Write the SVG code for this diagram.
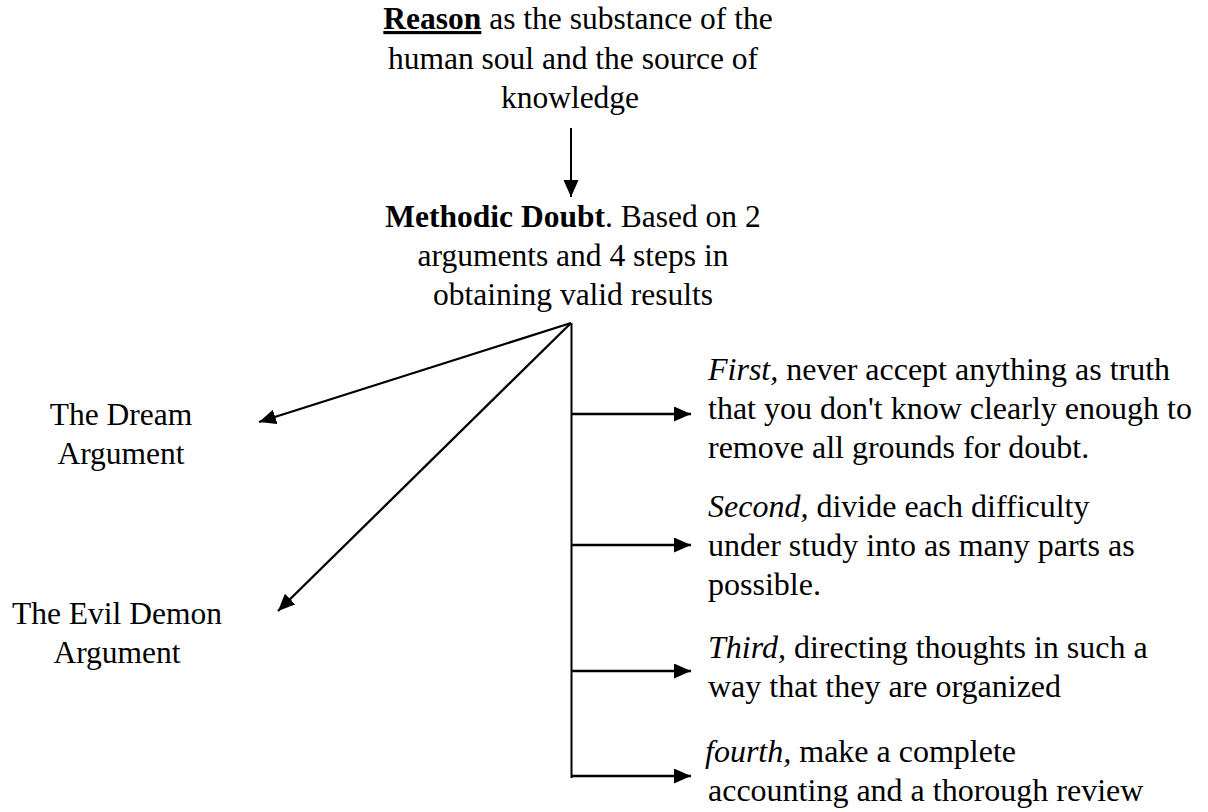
<svg xmlns="http://www.w3.org/2000/svg" width="1208" height="812" viewBox="0 0 1208 812">
<style>
text{font-family:"Liberation Serif","Times New Roman",serif;font-size:31.5px;fill:#000}
.c{text-anchor:middle}
.r{font-size:32px}
.b{font-weight:bold}
.i{font-style:italic}
.u{text-decoration:underline}
.ln{stroke:#000;stroke-width:2.3;fill:none}
.v{stroke:#000;stroke-width:2;fill:none}
</style>
<defs>
<marker id="ah" markerUnits="userSpaceOnUse" markerWidth="20" markerHeight="18" refX="17" refY="7.5" orient="auto">
<path d="M0,0 L17,7.5 L0,15 z" fill="#000"/>
</marker>
</defs>
<g id="connectors">
<line class="v" x1="571" y1="128" x2="571" y2="197" marker-end="url(#ah)"/>
<line class="ln" x1="571" y1="323" x2="259" y2="422" marker-end="url(#ah)"/>
<line class="ln" x1="571" y1="323" x2="278" y2="611" marker-end="url(#ah)"/>
<line class="v" x1="571.5" y1="323" x2="571.5" y2="778"/>
<line class="ln" x1="571.5" y1="414" x2="691" y2="414" marker-end="url(#ah)"/>
<line class="ln" x1="571.5" y1="545" x2="691" y2="545" marker-end="url(#ah)"/>
<line class="ln" x1="571.5" y1="671" x2="691" y2="671" marker-end="url(#ah)"/>
<line class="ln" x1="571.5" y1="776" x2="691" y2="776" marker-end="url(#ah)"/>
</g>
<g id="reason">
<text class="c" x="578" y="29"><tspan class="b u">Reason</tspan> as the substance of the</text>
<text class="c" x="573" y="69">human soul and the source of</text>
<text class="c" x="570" y="108">knowledge</text>
</g>
<g id="methodic-doubt">
<text class="c" x="573" y="227"><tspan class="b">Methodic Doubt</tspan>. Based on 2</text>
<text class="c" x="573" y="266">arguments and 4 steps in</text>
<text class="c" x="573" y="305">obtaining valid results</text>
</g>
<g id="dream">
<text class="c" x="121" y="425">The Dream</text>
<text class="c" x="121" y="464">Argument</text>
</g>
<g id="evil-demon">
<text class="c" x="117" y="624">The Evil Demon</text>
<text class="c" x="117" y="663">Argument</text>
</g>
<g id="first">
<text class="r" x="708" y="380"><tspan class="i">First,</tspan> never accept anything as truth</text>
<text class="r" x="708" y="419">that you don't know clearly enough to</text>
<text class="r" x="708" y="458">remove all grounds for doubt.</text>
</g>
<g id="second">
<text class="r" x="708" y="517"><tspan class="i">Second,</tspan> divide each difficulty</text>
<text class="r" x="708" y="556">under study into as many parts as</text>
<text class="r" x="708" y="595">possible.</text>
</g>
<g id="third">
<text class="r" x="708" y="658"><tspan class="i">Third,</tspan> directing thoughts in such a</text>
<text class="r" x="708" y="697">way that they are organized</text>
</g>
<g id="fourth">
<text class="r" x="705" y="762"><tspan class="i">fourth,</tspan> make a complete</text>
<text class="r" x="708" y="801">accounting and a thorough review</text>
</g>
</svg>
